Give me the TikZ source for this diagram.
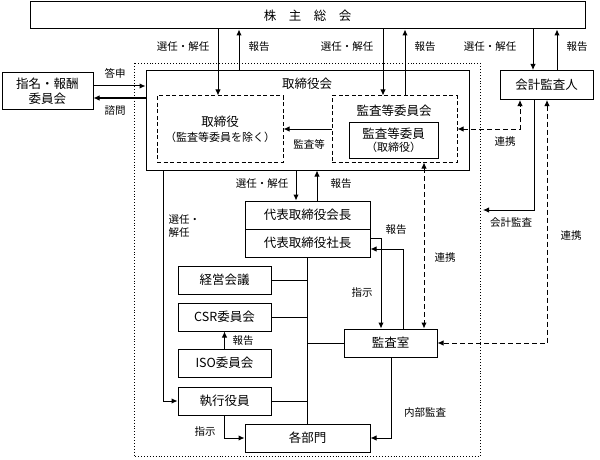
\documentclass[tikz,border=0pt]{standalone}
\usepackage{fontspec}
\setmainfont{Noto Sans CJK JP}
\usepackage{tikz}
\usetikzlibrary{arrows.meta,positioning}

\tikzset{
  box/.style={draw, line width=1pt, inner sep=0pt, align=center, font=\fontsize{12.5}{15}\selectfont},
  dbox/.style={box, dash pattern=on 4pt off 2.5pt},
  lbl/.style={font=\fontsize{10.5}{13}\selectfont, inner sep=0pt},
  link/.style={dash pattern=on 5pt off 3pt, {Latex[length=6pt,width=5.5pt]}-{Latex[length=6pt,width=5.5pt]}}
}

\begin{document}
\begin{tikzpicture}[x=1pt, y=-1pt, line width=1pt, >={Latex[length=6pt,width=5.5pt]}]
      \useasboundingbox (0,0) rectangle (600,460);
      % outer dotted frame
      \draw[dotted, line width=0.9pt] (134,63) rectangle (480,456);

      \node[box, minimum width=555, minimum height=27] (gm) at (307.5,15.5) {株　主　総　会};
      \node[box, minimum width=91, minimum height=37] (nom) at (47.5,91) {指名・報酬\\委員会};
      \node[box, minimum width=323, minimum height=99] (board) at (307.5,120.5) {};
      \node[box, draw=none] (boardlbl) at (307,84) {取締役会};
      \node[dbox, minimum width=126, minimum height=66] (dirs) at (220,129) {取締役\\{\fontsize{11}{13}\selectfont（監査等委員を除く）}};
      \node[dbox, minimum width=125, minimum height=66] (acb) at (394.5,129) {};
      \node[box, draw=none] (acblbl) at (394,111) {監査等委員会};
      \node[box, minimum width=89, minimum height=36] (acm) at (393.5,140) {監査等委員\\[-2pt]{\fontsize{11}{13}\selectfont（取締役）}};
      \node[box, minimum width=93, minimum height=29] (auditor) at (546.5,85) {会計監査人};

      \node[box, minimum width=125, minimum height=28] (chair) at (307.5,215) {代表取締役会長};
      \node[box, minimum width=125, minimum height=28] (pres) at (307.5,243) {代表取締役社長};
      \node[box, minimum width=93, minimum height=28] (mgmt) at (224.5,280) {経営会議};
      \node[box, minimum width=93, minimum height=28] (csr) at (224.5,317) {CSR委員会};
      \node[box, minimum width=93, minimum height=28] (iso) at (224.5,363) {ISO委員会};
      \node[box, minimum width=93, minimum height=28] (exec) at (224.5,401) {執行役員};
      \node[box, minimum width=125, minimum height=28] (depts) at (307.5,438) {各部門};
      \node[box, minimum width=93, minimum height=28] (iad) at (390.5,343) {監査室};
      \coordinate (acct) at (483,210);

      % shareholders meeting
      \draw[->] (gm.south -| 218,0) -- (dirs.north -| 218,0);
      \draw[->] (board.north -| 239,0) -- (gm.south -| 239,0);
      \draw[->] (gm.south -| 383,0) -- (acb.north -| 383,0);
      \draw[->] (acb.north -| 405,0) -- (gm.south -| 405,0);
      \draw[->] (gm.south -| 533,0) -- (auditor.north -| 533,0);
      \draw[->] (auditor.north -| 557,0) -- (gm.south -| 557,0);
      \node[lbl] (l1) at (183,47) {選任・解任};
      \node[lbl] (l2) at (259,47) {報告};
      \node[lbl] (l3) at (347,47) {選任・解任};
      \node[lbl] (l4) at (425,47) {報告};
      \node[lbl] (l5) at (490,47) {選任・解任};
      \node[lbl] (l6) at (577,47) {報告};

      \draw[->] (nom.east |- 0,86) -- (board.west |- 0,86);
      \draw[->] (board.west |- 0,98) -- (nom.east |- 0,98);
      \node[lbl] (l7) at (115,73) {答申};
      \node[lbl] (l8) at (115,111) {諮問};

      \draw[->] (acb.west) -- (dirs.east);
      \node[lbl] (l9) at (309,144) {監査等};
      \draw[link] (acb.east) -| (auditor.south -| 520,0);
      \node[lbl] (l10) at (505,142) {連携};
      \draw[->] (auditor.south -| 534,0) |- (acct);
      \node[lbl] (l11) at (511,223) {会計監査};
      \draw[link] (auditor.south -| 547,0) |- (iad.east);
      \node[lbl] (l12) at (571,236) {連携};

      % board to officers
      \draw[->] (board.south -| 163,0) |- (exec.west);
      \node[lbl, align=left, anchor=north west] (l13) at (168,214) {選任・\\解任};
      \draw[->] (board.south -| 296,0) -- (chair.north -| 296,0);
      \draw[->] (chair.north -| 317,0) -- (board.south -| 317,0);
      \node[lbl] (l14) at (262,184) {選任・解任};
      \node[lbl] (l15) at (341,184) {報告};

      \draw[->] (pres.east |- 0,238) -| (iad.north -| 381,0);
      \draw[->] (iad.north -| 403,0) |- (pres.east |- 0,249);
      \node[lbl] (l16) at (362,293) {指示};
      \node[lbl] (l17) at (396,230) {報告};
      \draw[link] (acb.south -| 424,0) -- (iad.north -| 424,0);
      \node[lbl] (l18) at (445,258) {連携};
      \draw[->] (iad.south -| 391,0) |- (depts.east);
      \node[lbl] (l19) at (425,413) {内部監査};

      % trunk
      \draw (pres.south) -- (depts.north);
      \draw (mgmt.east) -- (mgmt.east -| pres.south);
      \draw (csr.east) -- (csr.east -| pres.south);
      \draw (exec.east) -- (exec.east -| pres.south);
      \draw (iad.west) -- (iad.west -| pres.south);

      \draw[->] (iso.north) -- (csr.south);
      \node[lbl] (l20) at (243,341) {報告};
      \draw[->] (exec.south) |- (depts.west);
      \node[lbl] (l21) at (205,432) {指示};
\end{tikzpicture}
\end{document}
